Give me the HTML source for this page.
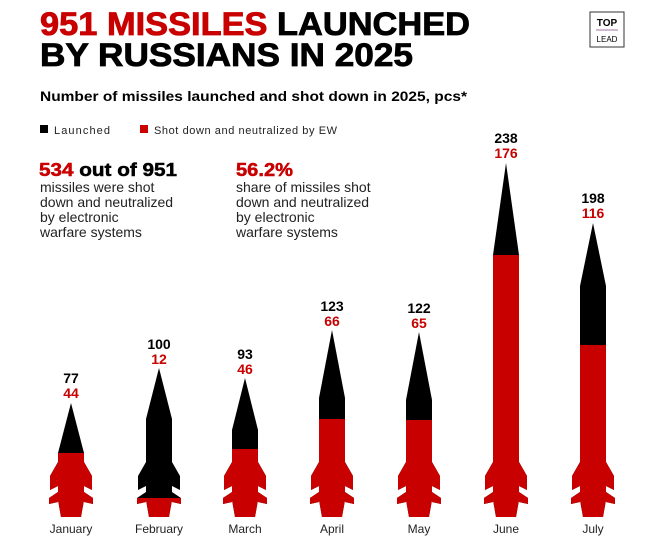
<!DOCTYPE html>
<html><head><meta charset="utf-8"><style>
body{margin:0;background:#fff;width:665px;height:542px;overflow:hidden;font-family:"Liberation Sans",sans-serif;}
</style></head><body>
<svg width="665" height="542" xmlns="http://www.w3.org/2000/svg" font-family="Liberation Sans, sans-serif">
<defs>
<g id="low">
<polygon points="-13,462 -21,476 -21,490 -13,486"/>
<polygon points="13,462 21,476 21,490 13,486"/>
<polygon points="-13,492 -22,498 -22,504 -13,502"/>
<polygon points="13,492 22,498 22,504 13,502"/>
<polygon points="-13,500 13,500 10,517 -10,517"/>
</g>
</defs>
<text x="40" y="35" font-size="32" font-weight="bold" fill="#000" stroke="#000" stroke-width="0.8" textLength="430" lengthAdjust="spacingAndGlyphs"><tspan fill="#c80000" stroke="#c80000">951 MISSILES</tspan> LAUNCHED</text>
<text x="40" y="66" font-size="32" font-weight="bold" fill="#000" stroke="#000" stroke-width="0.8" textLength="373" lengthAdjust="spacingAndGlyphs">BY RUSSIANS IN 2025</text>
<rect x="590" y="12" width="34" height="35" fill="none" stroke="#333" stroke-width="1"/>
<text x="607" y="26" font-size="10" font-weight="bold" text-anchor="middle">TOP</text>
<line x1="596" y1="30" x2="618" y2="30" stroke="#a070a0"/>
<text x="607" y="42" font-size="8" text-anchor="middle">LEAD</text>
<text x="40" y="101" font-size="14" font-weight="bold" textLength="427" lengthAdjust="spacingAndGlyphs">Number of missiles launched and shot down in 2025, pcs*</text>
<rect x="40" y="125" width="8" height="8"/>
<text x="54" y="134" font-size="11" fill="#222" textLength="56">Launched</text>
<rect x="140" y="125" width="8" height="8" fill="#c80000"/>
<text x="154" y="134" font-size="11" fill="#222" textLength="183">Shot down and neutralized by EW</text>
<text x="39" y="176" font-size="18" font-weight="bold" stroke="#000" stroke-width="0.5" textLength="138" lengthAdjust="spacingAndGlyphs"><tspan fill="#c80000" stroke="#c80000">534</tspan> out of 951</text>
<g font-size="14" fill="#222"><text x="40" y="192">missiles were shot</text><text x="40" y="207">down and neutralized</text><text x="40" y="222">by electronic</text><text x="40" y="237">warfare systems</text></g>
<text x="236" y="176" font-size="18" font-weight="bold" fill="#c80000" stroke="#c80000" stroke-width="0.5" textLength="57" lengthAdjust="spacingAndGlyphs">56.2%</text>
<g font-size="14" fill="#222"><text x="236" y="192">share of missiles shot</text><text x="236" y="207">down and neutralized</text><text x="236" y="222">by electronic</text><text x="236" y="237">warfare systems</text></g>

<g transform="translate(71,0)"><polygon points="0,403 -13,453 13,453"/><rect x="-13" y="453" width="26" height="47"/><use href="#low"/>
<clipPath id="c1"><rect x="-30" y="453" width="60" height="100"/></clipPath><g clip-path="url(#c1)" fill="#c80000"><rect x="-13" y="453" width="26" height="47"/><use href="#low"/></g></g>
<g transform="translate(159,0)"><polygon points="0,368 -13,419 13,419"/><rect x="-13" y="419" width="26" height="81"/><use href="#low"/>
<clipPath id="c2"><rect x="-30" y="498" width="60" height="100"/></clipPath><g clip-path="url(#c2)" fill="#c80000"><rect x="-13" y="419" width="26" height="81"/><use href="#low"/></g></g>
<g transform="translate(245,0)"><polygon points="0,378 -13,430 13,430"/><rect x="-13" y="430" width="26" height="70"/><use href="#low"/>
<clipPath id="c3"><rect x="-30" y="449" width="60" height="100"/></clipPath><g clip-path="url(#c3)" fill="#c80000"><rect x="-13" y="430" width="26" height="70"/><use href="#low"/></g></g>
<g transform="translate(332,0)"><polygon points="0,330 -13,398 13,398"/><rect x="-13" y="398" width="26" height="102"/><use href="#low"/>
<clipPath id="c4"><rect x="-30" y="419" width="60" height="100"/></clipPath><g clip-path="url(#c4)" fill="#c80000"><rect x="-13" y="398" width="26" height="102"/><use href="#low"/></g></g>
<g transform="translate(419,0)"><polygon points="0,332 -13,400 13,400"/><rect x="-13" y="400" width="26" height="100"/><use href="#low"/>
<clipPath id="c5"><rect x="-30" y="420" width="60" height="100"/></clipPath><g clip-path="url(#c5)" fill="#c80000"><rect x="-13" y="400" width="26" height="100"/><use href="#low"/></g></g>
<g transform="translate(506,0)"><polygon points="0,163 -13,255 13,255"/><rect x="-13" y="255" width="26" height="245"/><use href="#low"/>
<clipPath id="c6"><rect x="-30" y="255" width="60" height="300"/></clipPath><g clip-path="url(#c6)" fill="#c80000"><rect x="-13" y="255" width="26" height="245"/><use href="#low"/></g></g>
<g transform="translate(593,0)"><polygon points="0,223 -13,286 13,286"/><rect x="-13" y="286" width="26" height="214"/><use href="#low"/>
<clipPath id="c7"><rect x="-30" y="345" width="60" height="300"/></clipPath><g clip-path="url(#c7)" fill="#c80000"><rect x="-13" y="286" width="26" height="214"/><use href="#low"/></g></g>

<g font-size="14" font-weight="bold" text-anchor="middle">
<text x="71" y="383">77</text><text x="71" y="398" fill="#c80000">44</text>
<text x="159" y="349">100</text><text x="159" y="364" fill="#c80000">12</text>
<text x="245" y="359">93</text><text x="245" y="374" fill="#c80000">46</text>
<text x="332" y="311">123</text><text x="332" y="326" fill="#c80000">66</text>
<text x="419" y="313">122</text><text x="419" y="328" fill="#c80000">65</text>
<text x="506" y="143">238</text><text x="506" y="158" fill="#c80000">176</text>
<text x="593" y="203">198</text><text x="593" y="218" fill="#c80000">116</text>
</g>
<g font-size="12" fill="#222" text-anchor="middle">
<text x="71" y="533">January</text><text x="159" y="533">February</text><text x="245" y="533">March</text><text x="332" y="533">April</text><text x="419" y="533">May</text><text x="506" y="533">June</text><text x="593" y="533">July</text>
</g>
</svg>
</body></html>
